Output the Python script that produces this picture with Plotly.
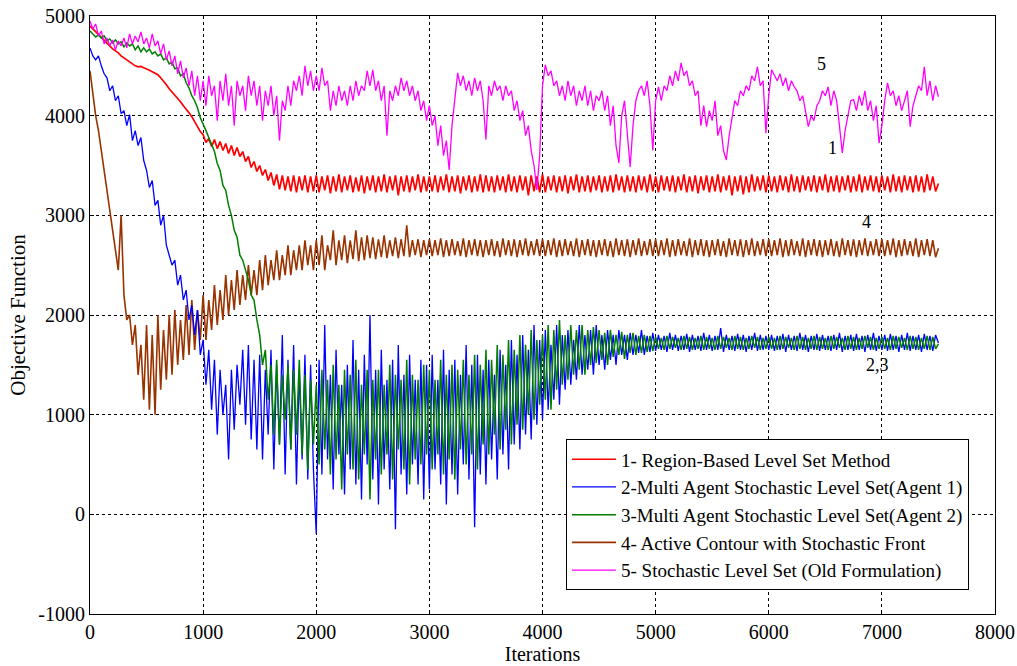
import plotly.graph_objects as go

STEP = 25
iterations = list(range(0, 7501, STEP))

region_based = [
    4900, 4870, 4845, 4810, 4790, 4755, 4730, 4700, 4670, 4650, 4630, 4600, 4580, 4560, 4540, 4515, 4500, 4490, 4495, 4480,
    4470, 4455, 4440, 4425, 4410, 4380, 4350, 4310, 4270, 4240, 4200, 4170, 4140, 4100, 4070, 4030, 3990, 3940, 3880, 3840,
    3810, 3730, 3770, 3690, 3760, 3670, 3740, 3650, 3720, 3620, 3700, 3600, 3680, 3590, 3640, 3540, 3590, 3480, 3540, 3440,
    3500, 3400, 3460, 3350, 3430, 3300, 3410, 3260, 3400, 3250, 3390, 3240, 3400, 3230, 3390, 3250, 3400, 3230, 3390, 3240,
    3400, 3230, 3390, 3250, 3400, 3220, 3390, 3240, 3410, 3230, 3390, 3250, 3400, 3230, 3380, 3240, 3400, 3220, 3390, 3250,
    3400, 3230, 3390, 3240, 3410, 3230, 3390, 3250, 3400, 3200, 3390, 3240, 3400, 3230, 3390, 3250, 3410, 3230, 3390, 3240,
    3390, 3240, 3400, 3230, 3390, 3250, 3410, 3230, 3390, 3240, 3400, 3220, 3390, 3250, 3400, 3230, 3390, 3240, 3410, 3230,
    3400, 3240, 3390, 3230, 3400, 3250, 3390, 3230, 3410, 3240, 3390, 3230, 3400, 3250, 3390, 3200, 3400, 3240, 3390, 3230,
    3410, 3230, 3390, 3250, 3400, 3230, 3390, 3240, 3400, 3220, 3390, 3250, 3410, 3230, 3390, 3240, 3400, 3230, 3390, 3250,
    3400, 3230, 3390, 3240, 3400, 3230, 3410, 3250, 3390, 3230, 3400, 3240, 3390, 3230, 3400, 3250, 3390, 3230, 3410, 3240,
    3390, 3230, 3400, 3250, 3390, 3240, 3400, 3230, 3390, 3250, 3410, 3230, 3390, 3240, 3400, 3220, 3390, 3250, 3400, 3230,
    3390, 3240, 3410, 3230, 3390, 3250, 3400, 3200, 3390, 3240, 3400, 3210, 3390, 3230, 3410, 3240, 3390, 3250, 3400, 3230,
    3400, 3240, 3390, 3230, 3400, 3250, 3390, 3230, 3410, 3240, 3390, 3230, 3400, 3250, 3390, 3240, 3400, 3230, 3390, 3250,
    3410, 3230, 3390, 3240, 3400, 3230, 3390, 3250, 3400, 3230, 3390, 3240, 3410, 3230, 3390, 3250, 3400, 3240, 3390, 3230,
    3400, 3250, 3390, 3230, 3410, 3240, 3390, 3230, 3400, 3250, 3390, 3230, 3400, 3240, 3390, 3230, 3410, 3250, 3390, 3240,
    3320,
]

agent1 = [
    4680, 4600, 4560, 4600, 4500, 4420, 4380, 4250, 4300, 4150, 4200, 4020, 4050, 3900, 4010, 3750, 3850, 3700, 3780, 3550,
    3450, 3280, 3350, 3100, 3150, 2900, 3000, 2700, 2600, 2500, 2550, 2300, 2400, 2150, 2250, 1950, 2100, 1800, 2050, 1600,
    1750, 1300, 1650, 1050, 1550, 800, 1450, 1000, 1300, 550, 1450, 850, 1500, 1100, 1650, 900, 1700, 750, 1550, 650,
    1600, 550, 1450, 800, 1650, 450, 1500, 700, 1800, 400, 1550, 650, 1700, 300, 1450, 550, 1600, 350, 1500, 450,
    -200, 1550, 400, 1900, 550, 1400, 250, 1650, 600, 1300, 200, 1500, 450, 1750, 300, 1450, 150, 1600, 500, 2000,
    350, 1450, 100, 1650, 450, 1350, 250, 1550, -150, 1700, 400, 1400, 200, 1600, 500, 1350, 300, 1550, 150, 1500,
    250, 1600, 450, 1350, 300, 1650, 100, 1450, 400, 1550, 200, 1400, 500, 1700, 350, 1500, -130, 1600, 400, 1450,
    300, 1550, 550, 1400, 350, 1650, 600, 1500, 450, 1750, 700, 1600, 650, 1800, 800, 1650, 750, 1900, 900, 1750,
    950, 1850, 1050, 1700, 1150, 1900, 1100, 1800, 1250, 1850, 1300, 1750, 1350, 1900, 1400, 1800, 1450, 1850, 1400, 1900,
    1500, 1800, 1450, 1850, 1550, 1800, 1500, 1850, 1600, 1800, 1550, 1820, 1600, 1800, 1620, 1850, 1600, 1790, 1630, 1820,
    1640, 1800, 1650, 1790, 1630, 1820, 1650, 1800, 1640, 1790, 1650, 1810, 1630, 1800, 1650, 1790, 1640, 1820, 1650, 1800,
    1640, 1790, 1650, 1870, 1630, 1800, 1650, 1790, 1640, 1810, 1650, 1800, 1630, 1790, 1650, 1820, 1640, 1800, 1650, 1790,
    1650, 1800, 1640, 1790, 1650, 1810, 1630, 1800, 1650, 1790, 1640, 1820, 1650, 1800, 1630, 1790, 1650, 1810, 1640, 1800,
    1650, 1790, 1640, 1800, 1650, 1820, 1630, 1790, 1650, 1800, 1640, 1810, 1650, 1790, 1630, 1800, 1650, 1820, 1640, 1790,
    1650, 1800, 1640, 1810, 1650, 1790, 1630, 1800, 1650, 1820, 1640, 1790, 1650, 1800, 1630, 1810, 1650, 1790, 1640, 1800,
    1720,
]

agent2 = [
    4850, 4820, 4790, 4810, 4780, 4800, 4750, 4770, 4730, 4760, 4720, 4740, 4690, 4730, 4700, 4720, 4660, 4700, 4640, 4680,
    4640, 4670, 4620, 4640, 4600, 4620, 4560, 4580, 4520, 4540, 4470, 4480, 4400, 4420, 4330, 4280, 4200, 4150, 4080, 3980,
    3920, 3850, 3780, 3700, 3640, 3520, 3450, 3300, 3250, 3100, 3000, 2850, 2780, 2600, 2550, 2450, 2350, 2200, 2150, 1950,
    1800, 1500, 1650, 1150, 1500, 800, 1550, 700, 1400, 950, 1500, 650, 1450, 800, 1550, 600, 1400, 450, 1350, 700,
    1300, 500, 1450, 650, 1350, 400, 1500, 550, 1300, 250, 1450, 600, 1400, 450, 1550, 350, 1300, 600, 1450, 150,
    1350, 550, 1450, 400, 1300, 600, 1500, 350, 1400, 650, 1350, 450, 1550, 300, 1400, 550, 1350, 500, 1500, 600,
    1450, 450, 1350, 600, 1550, 400, 1400, 550, 1500, 350, 1450, 650, 1550, 500, 1400, 600, 1600, 450, 1500, 700,
    1650, 600, 1550, 800, 1700, 650, 1600, 850, 1750, 700, 1650, 900, 1800, 850, 1700, 1000, 1850, 950, 1750, 1100,
    1800, 1150, 1900, 1050, 1850, 1250, 1950, 1300, 1800, 1350, 1900, 1400, 1850, 1450, 1900, 1400, 1850, 1500, 1880, 1520,
    1850, 1550, 1820, 1500, 1850, 1580, 1800, 1600, 1830, 1560, 1800, 1620, 1820, 1600, 1790, 1620, 1800, 1630, 1790, 1640,
    1780, 1660, 1770, 1650, 1790, 1660, 1780, 1670, 1770, 1650, 1790, 1660, 1780, 1650, 1770, 1660, 1790, 1650, 1780, 1660,
    1770, 1650, 1790, 1660, 1780, 1670, 1770, 1650, 1790, 1660, 1780, 1650, 1770, 1660, 1790, 1670, 1780, 1650, 1770, 1660,
    1780, 1660, 1770, 1650, 1790, 1660, 1780, 1670, 1770, 1650, 1790, 1660, 1780, 1650, 1770, 1660, 1790, 1650, 1780, 1660,
    1770, 1650, 1790, 1660, 1780, 1670, 1770, 1650, 1790, 1660, 1780, 1650, 1770, 1660, 1790, 1670, 1780, 1650, 1770, 1660,
    1780, 1660, 1770, 1650, 1790, 1660, 1780, 1670, 1770, 1650, 1790, 1660, 1780, 1650, 1770, 1660, 1790, 1650, 1780, 1660,
    1710,
]

active_contour = [
    4450, 4200, 4000, 3850, 3650, 3500, 3300, 3100, 2900, 2650, 2450, 3000, 2200, 1950, 2000, 1700, 1900, 1400, 1700, 1150,
    1900, 1050, 1800, 1000, 2000, 1250, 1850, 1350, 2000, 1400, 2050, 1500, 1950, 1550, 2100, 1600, 2150, 1650, 2050, 1750,
    2200, 1750, 2150, 1850, 2300, 1900, 2250, 1950, 2400, 2000, 2350, 2050, 2450, 2100, 2400, 2150, 2500, 2200, 2450, 2200,
    2550, 2250, 2600, 2300, 2550, 2350, 2650, 2350, 2600, 2400, 2700, 2400, 2650, 2450, 2700, 2450, 2750, 2500, 2700, 2450,
    2750, 2500, 2800, 2450, 2700, 2550, 2850, 2500, 2750, 2550, 2800, 2520, 2750, 2560, 2850, 2540, 2780, 2550, 2800, 2570,
    2780, 2560, 2760, 2580, 2800, 2570, 2750, 2590, 2780, 2570, 2760, 2590, 2900, 2580, 2750, 2600, 2760, 2580, 2750, 2600,
    2760, 2590, 2750, 2600, 2770, 2580, 2750, 2590, 2760, 2600, 2740, 2590, 2770, 2580, 2750, 2600, 2760, 2590, 2750, 2580,
    2750, 2600, 2760, 2590, 2740, 2580, 2770, 2600, 2750, 2590, 2760, 2580, 2750, 2600, 2770, 2590, 2740, 2600, 2760, 2590,
    2760, 2590, 2750, 2600, 2770, 2580, 2750, 2590, 2760, 2600, 2740, 2590, 2770, 2580, 2750, 2600, 2760, 2590, 2750, 2580,
    2750, 2600, 2760, 2590, 2740, 2580, 2770, 2600, 2750, 2590, 2760, 2580, 2750, 2600, 2770, 2590, 2740, 2600, 2760, 2590,
    2760, 2590, 2750, 2600, 2770, 2580, 2750, 2590, 2760, 2600, 2740, 2590, 2770, 2580, 2750, 2600, 2760, 2590, 2750, 2580,
    2750, 2600, 2760, 2590, 2740, 2580, 2770, 2600, 2750, 2590, 2760, 2580, 2750, 2600, 2770, 2590, 2740, 2600, 2760, 2590,
    2760, 2590, 2750, 2600, 2770, 2580, 2750, 2590, 2760, 2600, 2740, 2590, 2770, 2580, 2750, 2600, 2760, 2590, 2750, 2580,
    2750, 2600, 2760, 2590, 2740, 2580, 2770, 2600, 2750, 2590, 2760, 2580, 2750, 2600, 2770, 2590, 2740, 2600, 2760, 2590,
    2760, 2590, 2750, 2600, 2770, 2580, 2750, 2590, 2760, 2600, 2740, 2590, 2770, 2580, 2750, 2600, 2760, 2590, 2750, 2580,
    2670,
]

old_formulation = [
    4950, 4870, 4920, 4800, 4850, 4720, 4780, 4700, 4760, 4660, 4750, 4700, 4780, 4680, 4820, 4720, 4800, 4740, 4840, 4720,
    4780, 4680, 4820, 4700, 4750, 4620, 4720, 4560, 4650, 4500, 4600, 4420, 4550, 4380, 4480, 4300, 4450, 4200, 4400, 4150,
    4350, 4100, 4400, 4200, 4300, 3950, 4350, 4150, 4420, 4100, 4300, 3900, 4350, 4200, 4300, 4050, 4400, 4200, 4350, 4100,
    4300, 3950, 4250, 4100, 4300, 4000, 4200, 3750, 4150, 4050, 4300, 4100, 4350, 4250, 4400, 4200, 4500, 4300, 4450, 4250,
    4400, 4250, 4480, 4300, 4350, 4050, 4250, 4100, 4300, 4150, 4250, 4100, 4300, 4150, 4350, 4200, 4300, 4250, 4450, 4300,
    4460, 4250, 4350, 4150, 4300, 3800, 4250, 4150, 4300, 4200, 4380, 4250, 4350, 4200, 4300, 4150, 4250, 4050, 4150, 3950,
    4100, 3900, 4000, 3700, 3900, 3600, 3750, 3455, 3900, 4200, 4430, 4300, 4400, 4250, 4350, 4200, 4380, 4250, 4350, 4150,
    3760, 4300, 4200, 4350, 4250, 4300, 4150, 4300, 4200, 4250, 4050, 4150, 3950, 4050, 3800, 3900, 3650, 3500, 3255, 3600,
    4300, 4510, 4400, 4450, 4300, 4350, 4200, 4300, 4150, 4350, 4200, 4300, 4100, 4250, 4150, 4300, 4100, 4250, 4050, 4200,
    4150, 4250, 4050, 4200, 3900, 4100, 3700, 3525, 4000, 4150, 3800, 3485, 3900, 4150, 4250, 4300, 4200, 4350, 4100, 3650,
    4150, 4290, 4150, 4300, 4250, 4400, 4300, 4450, 4350, 4530, 4400, 4450, 4300, 4350, 4200, 4250, 3900, 4100, 3890, 4050,
    3950, 4150, 3800, 3900, 3650, 3555, 3800, 4000, 4150, 4100, 4250, 4200, 4300, 4250, 4400, 4350, 4490, 4300, 4350, 3825,
    4200, 4460, 4400, 4350, 4420, 4300, 4380, 4250, 4350, 4290, 4250, 4150, 4200, 4050, 3890, 4000, 3950, 4100, 4150, 4250,
    4200, 4290, 4100, 4250, 4150, 3900, 3625, 3850, 4000, 4150, 4160, 4050, 4200, 4100, 4250, 4050, 4150, 3950, 4100, 3725,
    3900, 4150, 4330, 4200, 4250, 4100, 4200, 4050, 4150, 4250, 3890, 4100, 4200, 4300, 4250, 4490, 4200, 4350, 4150, 4300,
    4190,
]

series_names = [
    "1- Region-Based Level Set Method",
    "2-Multi Agent Stochastic Level Set(Agent 1)",
    "3-Multi Agent Stochastic Level Set(Agent 2)",
    "4- Active Contour with Stochastic Front",
    "5- Stochastic Level Set (Old Formulation)",
]
series_values = [region_based, agent1, agent2, active_contour, old_formulation]
series_colors = ["#ff0000", "#0000ff", "#007f00", "#993300", "#ff00ff"]
series_widths = [1.7, 1.3, 1.5, 1.6, 1.3]

labels = ["5", "1", "4", "2,3"]
label_x = [6470, 6560, 6860, 6960]
label_y = [4520, 3680, 2930, 1500]

x_ticks = [0, 1000, 2000, 3000, 4000, 5000, 6000, 7000, 8000]
y_ticks = [-1000, 0, 1000, 2000, 3000, 4000, 5000]

FONT = "Liberation Serif, Times New Roman, serif"

fig = go.Figure()
order = [3, 0, 1, 2, 4]
for i in order:
    fig.add_trace(go.Scatter(x=iterations, y=series_values[i], mode="lines",
                             name=series_names[i],
                             line=dict(color=series_colors[i], width=series_widths[i]),
                             legendrank=i + 1))

for t, xx, yy in zip(labels, label_x, label_y):
    fig.add_annotation(x=xx, y=yy, text=t, showarrow=False,
                       font=dict(family=FONT, size=18, color="black"))

axis_common = dict(showline=True, linecolor="black", linewidth=1, mirror=True,
                   showgrid=True, gridcolor="black", griddash="dot", gridwidth=1,
                   zeroline=False, ticks="inside", ticklen=4, tickcolor="black",
                   automargin=False,
                   tickfont=dict(family=FONT, size=20, color="black"))

fig.update_xaxes(range=[0, 8000], tickvals=x_ticks, ticktext=[str(v) for v in x_ticks],
                 title=dict(text="Iterations", font=dict(family=FONT, size=20, color="black"),
                            standoff=0),
                 **axis_common)
fig.update_yaxes(range=[-1000, 5000], tickvals=y_ticks, ticktext=[str(v) for v in y_ticks],
                 title=dict(text="Objective Function", font=dict(family=FONT, size=21, color="black"),
                            standoff=6),
                 **axis_common)

fig.update_layout(
    width=1017, height=666,
    margin=dict(l=90, r=22, t=16, b=52),
    paper_bgcolor="white", plot_bgcolor="white",
    showlegend=True,
    legend=dict(x=0.526, y=0.292, xanchor="left", yanchor="top",
                bgcolor="white", bordercolor="black", borderwidth=1,
                font=dict(family=FONT, size=19, color="black"),
                tracegroupgap=0, itemwidth=44),
)

fig.write_html("out.html")
